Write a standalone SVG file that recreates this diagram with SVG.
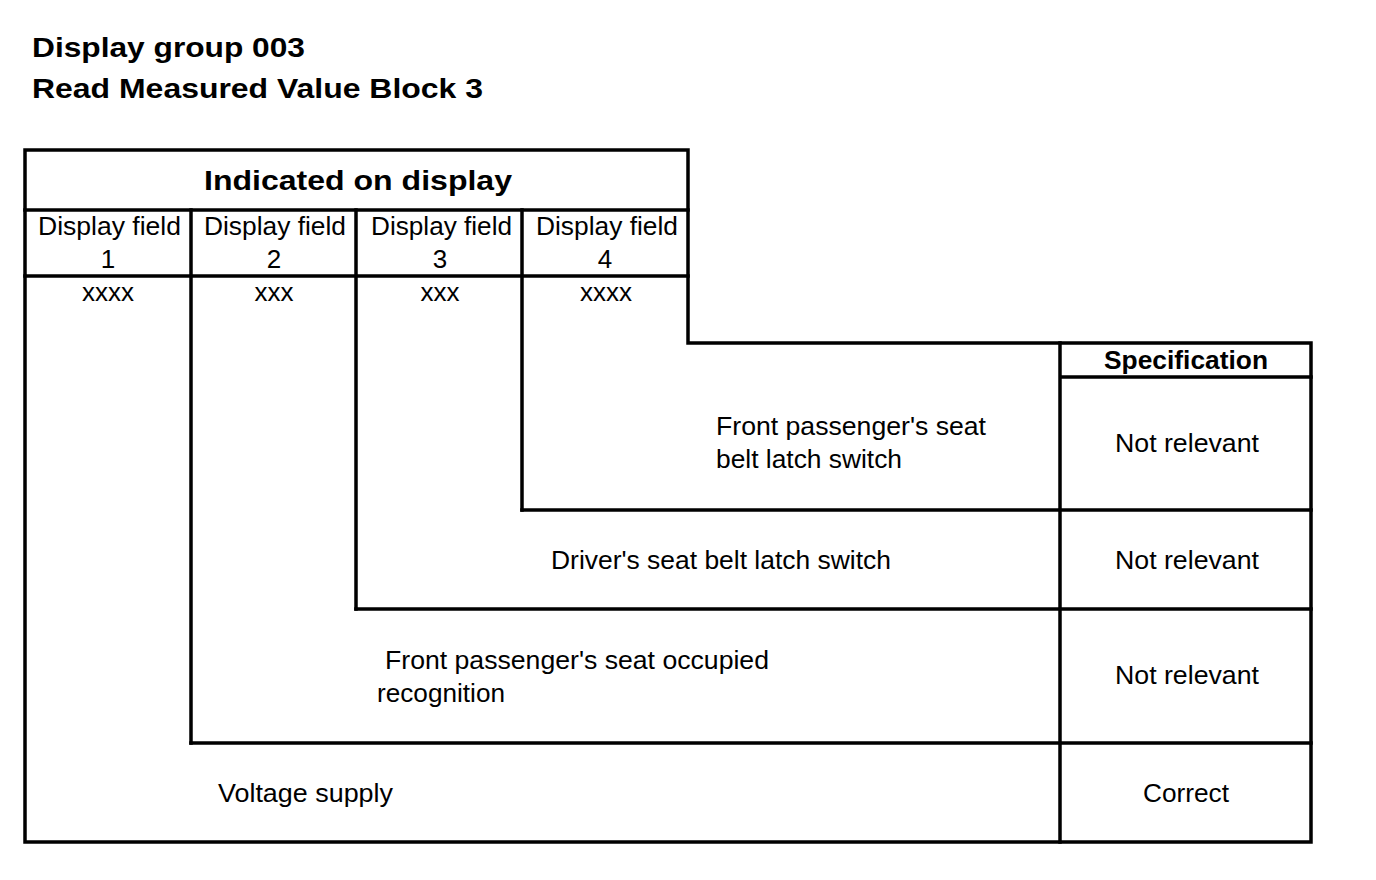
<svg xmlns="http://www.w3.org/2000/svg" width="1376" height="880" viewBox="0 0 1376 880">
<style>
.ln{fill:none;stroke:#000;stroke-width:3.5;stroke-linecap:square}
.t{font-family:"Liberation Sans",Arial,sans-serif;font-size:26px;fill:#000}
.b{font-family:"Liberation Sans",Arial,sans-serif;font-weight:bold;fill:#000}
.c{text-anchor:middle}
</style>
<rect width="1376" height="880" fill="#fff"/>
<g id="title">
<text class="b" x="32" y="57" font-size="28" textLength="273" lengthAdjust="spacingAndGlyphs">Display group 003</text>
<text class="b" x="32" y="98" font-size="28" textLength="451" lengthAdjust="spacingAndGlyphs">Read Measured Value Block 3</text>
</g>
<g id="connectors">
<path class="ln" d="M25,150 H688 V343 H1311 V842 H25 Z"/>
<path class="ln" d="M25,210 H688 M25,276 H688"/>
<path class="ln" d="M191,210 V743 M356,210 V609 M522,210 V510"/>
<path class="ln" d="M1060,343 V842 M1060,377 H1311"/>
<path class="ln" d="M522,510 H1311 M356,609 H1311 M191,743 H1311"/>
</g>
<g id="header">
<text class="b" x="204" y="190" font-size="27" textLength="308" lengthAdjust="spacingAndGlyphs">Indicated on display</text>
</g>
<g id="field1">
<text class="t" x="38" y="235" textLength="143" lengthAdjust="spacingAndGlyphs">Display field</text>
<text class="t c" x="108" y="268">1</text>
<text class="t c" x="108" y="301" font-size="22">xxxx</text>
</g>
<g id="field2">
<text class="t" x="204" y="235" textLength="142" lengthAdjust="spacingAndGlyphs">Display field</text>
<text class="t c" x="274" y="268">2</text>
<text class="t c" x="274" y="301" font-size="22">xxx</text>
</g>
<g id="field3">
<text class="t" x="371" y="235" textLength="141" lengthAdjust="spacingAndGlyphs">Display field</text>
<text class="t c" x="440" y="268">3</text>
<text class="t c" x="440" y="301" font-size="22">xxx</text>
</g>
<g id="field4">
<text class="t" x="536" y="235" textLength="142" lengthAdjust="spacingAndGlyphs">Display field</text>
<text class="t c" x="605" y="268">4</text>
<text class="t c" x="606" y="301" font-size="22">xxxx</text>
</g>
<g id="specHeader">
<text class="b" x="1104" y="369" font-size="25" textLength="164" lengthAdjust="spacingAndGlyphs">Specification</text>
</g>
<g id="row4">
<text class="t" x="716" y="435" textLength="270" lengthAdjust="spacingAndGlyphs">Front passenger's seat</text>
<text class="t" x="716" y="468" textLength="186" lengthAdjust="spacingAndGlyphs">belt latch switch</text>
<text class="t" x="1115" y="452" textLength="144" lengthAdjust="spacingAndGlyphs">Not relevant</text>
</g>
<g id="row3">
<text class="t" x="551" y="569" textLength="340" lengthAdjust="spacingAndGlyphs">Driver's seat belt latch switch</text>
<text class="t" x="1115" y="569" textLength="144" lengthAdjust="spacingAndGlyphs">Not relevant</text>
</g>
<g id="row2">
<text class="t" x="385" y="669" textLength="384" lengthAdjust="spacingAndGlyphs">Front passenger's seat occupied</text>
<text class="t" x="377" y="702" textLength="128" lengthAdjust="spacingAndGlyphs">recognition</text>
<text class="t" x="1115" y="684" textLength="144" lengthAdjust="spacingAndGlyphs">Not relevant</text>
</g>
<g id="row1">
<text class="t" x="218" y="802" textLength="175" lengthAdjust="spacingAndGlyphs">Voltage supply</text>
<text class="t" x="1143" y="802" textLength="86" lengthAdjust="spacingAndGlyphs">Correct</text>
</g>
</svg>
